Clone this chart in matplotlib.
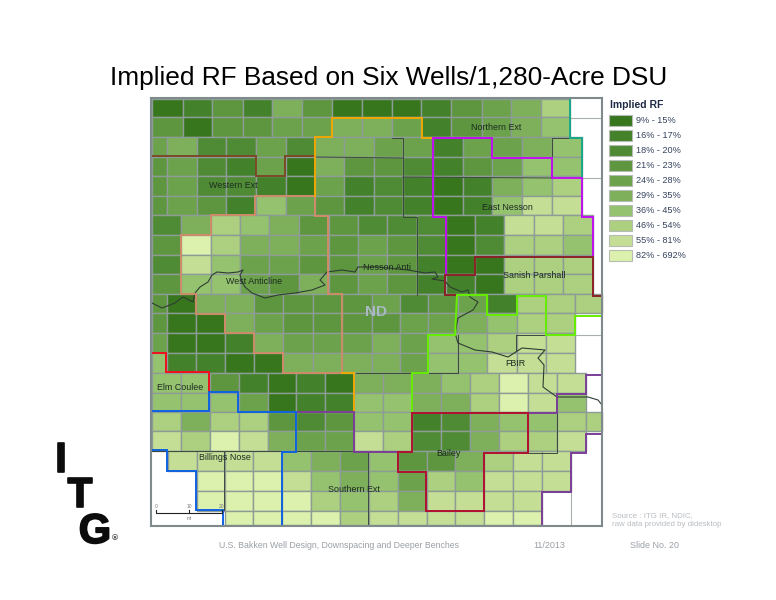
import matplotlib
matplotlib.use('Agg')
import matplotlib.pyplot as plt
import matplotlib.patheffects as pe
from matplotlib.patches import Rectangle

plt.rcParams['font.family'] = ['Liberation Sans', 'DejaVu Sans']

# legend classes
class_labels = ['9% - 15%', '16% - 17%', '18% - 20%', '21% - 23%', '24% - 28%',
                '29% - 35%', '36% - 45%', '46% - 54%', '55% - 81%', '82% - 692%']

# class of every township, -1 = no data
rf_rows_a = [
    [0, 1, 3, 1, 5, 3, 0, 0, 0, 1, 3, 4, 5, 7],
    [3, 0, 3, 3, 4, 4, 5, 5, 4, 1, 3, 4, 5, 6],
]
rf_rows_b = [
    [4, 5, 2, 2, 4, 2, 5, 5, 4, 4, 1, 4, 4, 5, 6],
    [3, 4, 2, 1, 4, 0, 5, 3, 3, 2, 1, 3, 4, 6, 6],
    [3, 4, 2, 2, 1, 0, 4, 1, 2, 1, 0, 1, 5, 6, 7],
    [3, 4, 3, 1, 6, 4, 3, 1, 2, 1, 0, 1, 6, 8, 8],
]
rf_rows_c = [
    [2, 5, 7, 6, 5, 3, 3, 2, 2, 2, 0, 1, 8, 8, 7],
    [3, 9, 7, 5, 5, 4, 3, 4, 3, 2, 0, 2, 7, 7, 6],
    [2, 8, 6, 4, 4, 3, 3, 4, 3, 1, 0, 0, 7, 7, 7],
    [3, 6, 6, 4, 3, 5, 3, 4, 3, 1, 1, 0, 7, 7, 7],
]
rf_rows_d = [
    [3, 0, 5, 5, 3, 3, 3, 3, 4, 2, 3, 4, 1, 7, 7, 7],
    [3, 0, 0, 5, 4, 3, 3, 3, 3, 4, 4, 5, 6, 7, 7, -1],
    [4, 0, 0, 1, 5, 4, 4, 4, 5, 4, 6, 6, 7, 8, 8, -1],
    [6, 1, 1, 0, 0, 5, 5, 5, 5, 4, 6, 6, 8, 8, 8, -1],
]
rf_rows_e = [
    [6, 6, 3, 1, 0, 1, 0, 5, 5, 5, 6, 7, 9, 8, 8, -1],
    [6, 6, 6, 4, 0, 1, 1, 6, 6, 5, 5, 7, 9, 8, 6, -1],
    [7, 5, 7, 7, 3, 2, 3, 6, 6, 1, 2, 5, 6, 6, 7, 7],
    [8, 7, 9, 8, 5, 4, 4, 8, 7, 2, 2, 5, 7, 7, 8, -1],
]
rf_rows_f = [
    [-1, 8, 8, 8, 8, 6, 5, 4, 6, 3, 3, 5, 7, 8, 8],
    [-1, -1, 9, 9, 9, 8, 6, 5, 6, 4, 7, 6, 8, 8, 8],
    [-1, -1, 9, 9, 9, 9, 7, 6, 7, 5, 8, 8, 8, 8, -1],
    [-1, -1, -1, 9, 9, 9, 9, 7, 8, 8, 8, 8, 9, 9, -1],
]

# map geometry, the figure is laid out in pixels
row_tops = [99, 117, 137, 157, 176, 196, 215, 235, 255, 274, 294, 313, 333,
            353, 373, 393, 412, 431, 451, 471, 491, 511, 525]
edges_a = [152, 183, 212, 243, 272, 302, 332, 362, 392, 421, 451, 482, 511, 541, 570]
edges_b = [152, 167, 197, 226, 256, 286, 315, 344, 374, 403, 433, 463, 492, 522, 552, 582]
edges_c = [152, 181, 211, 240, 269, 299, 329, 358, 387, 417, 446, 475, 504, 534, 563, 593]
edges_d = [152, 167, 196, 225, 254, 283, 313, 342, 372, 400, 428, 458, 487, 517, 546, 575, 602]
edges_e = [152, 181, 210, 239, 268, 296, 325, 354, 383, 412, 441, 470, 499, 528, 557, 586, 602]
edges_f = [152, 168, 197, 225, 253, 282, 311, 340, 369, 398, 427, 455, 484, 513, 542, 571]

colors = ['#38761d', '#43812a', '#4f8b34', '#5d963e', '#6ba24b',
          '#7eaf5a', '#95c26f', '#accf80', '#c4df95', '#dcf1ad']
cell_edge = '#8d9c94'

fig = plt.figure(figsize=(7.76, 6), dpi=100)
ax = fig.add_axes([0, 0, 1, 1])
ax.set_xlim(0, 776)
ax.set_ylim(600, 0)
ax.axis('off')

row_idx = 0
for rows, edges in [(rf_rows_a, edges_a), (rf_rows_b, edges_b), (rf_rows_c, edges_c),
                    (rf_rows_d, edges_d), (rf_rows_e, edges_e), (rf_rows_f, edges_f)]:
    for row in rows:
        top, bottom = row_tops[row_idx], row_tops[row_idx + 1]
        for i, cls in enumerate(row):
            if cls < 0:
                continue
            ax.add_patch(Rectangle((edges[i], top), edges[i + 1] - edges[i], bottom - top,
                                   facecolor=colors[cls], edgecolor=cell_edge, linewidth=1.0, zorder=1))
        row_idx += 1

# thin county lines
county_lines = [
    [(315, 157), (403, 158)], [(392, 138), (403, 138), (403, 217), (417, 217), (417, 295)],
    [(403, 177), (552, 178)], [(552, 178), (552, 138), (582, 138)],
    [(356, 373), (458, 373), (458, 335)], [(516, 335), (545, 335)], [(516, 335), (516, 350)],
    [(557, 413), (557, 453), (528, 453)], [(152, 451), (398, 451)],
    [(224, 452), (224, 510)], [(368, 452), (368, 525)], [(483, 525), (571, 525)],
]
for line in county_lines:
    ax.plot(*zip(*line), color='#3c4a3c', lw=0.7, zorder=2)

# white corner cells
for line in [[(570, 118), (601, 118)], [(582, 178), (601, 178)], [(575, 335), (601, 335)],
             [(542, 492), (571, 492)], [(571, 525), (571, 492)]]:
    ax.plot(*zip(*line), color='#a8b0ac', lw=0.8, zorder=2)

river = [(152, 303), (162, 308), (175, 303), (183, 297), (193, 302), (195, 293), (200, 287),
         (208, 282), (212, 275), (217, 272), (228, 273), (238, 272), (243, 270), (240, 275),
         (242, 282), (245, 287), (252, 293), (265, 298), (278, 295), (295, 293), (312, 290),
         (325, 285), (320, 280), (327, 272), (342, 270), (355, 272), (358, 267), (378, 267),
         (408, 270), (425, 273), (435, 272), (438, 277), (432, 279), (445, 281), (450, 287),
         (462, 292), (468, 290), (470, 297), (478, 302), (473, 310), (458, 318), (455, 333),
         (458, 343), (475, 350), (492, 352), (508, 357), (522, 348), (545, 350), (538, 358),
         (544, 365), (543, 387), (557, 397), (588, 397), (598, 400), (602, 405)]
ax.plot(*zip(*river), color='#2f3d33', lw=0.8, zorder=3)

# play outlines
outlines = [
    ('#7b4a28', [(152, 156), (256, 156), (256, 176), (285, 176), (285, 156), (315, 156)]),
    ('#cf8c68', [(315, 196), (255, 196), (255, 215), (211, 215), (211, 235), (181, 235), (181, 294),
                 (196, 294), (196, 314), (225, 314), (225, 333), (254, 333), (254, 353), (283, 353),
                 (283, 373), (342, 373), (342, 294), (328, 294), (328, 216), (315, 216), (315, 196)]),
    ('#f0a800', [(315, 196), (315, 137), (332, 137), (332, 118), (422, 118), (422, 138), (433, 138)]),
    ('#f0a800', [(342, 373), (354, 373), (354, 412)]),
    ('#1aa88a', [(570, 99), (570, 138), (582, 138), (582, 177)]),
    ('#c010f0', [(446, 275), (446, 217), (433, 217), (433, 138), (492, 138), (492, 158), (552, 158),
                 (552, 178), (582, 178), (582, 217), (593, 217), (593, 257)]),
    ('#8b2228', [(457, 295), (445, 295), (445, 275), (475, 275), (475, 257), (593, 257), (593, 296), (602, 296)]),
    ('#66ee00', [(412, 413), (412, 373), (428, 373), (428, 335), (455, 335), (457, 295), (487, 295),
                 (487, 315), (517, 315), (517, 296), (546, 296), (546, 335), (575, 335), (575, 316), (602, 316)]),
    ('#7b3f98', [(296, 412), (354, 412), (354, 452), (398, 452)]),
    ('#7b3f98', [(528, 413), (557, 413), (557, 394), (586, 394), (586, 375), (602, 375)]),
    ('#7b3f98', [(602, 434), (586, 434), (586, 453), (571, 453), (571, 492), (542, 492), (542, 525)]),
    ('#b01030', [(412, 413), (528, 413), (528, 453), (484, 453), (484, 511), (426, 511), (426, 472),
                 (398, 472), (398, 452), (412, 452), (412, 413)]),
    ('#f01020', [(152, 353), (166, 353), (166, 372), (209, 372), (209, 392)]),
    ('#0f62e0', [(152, 411), (209, 411), (209, 392), (238, 392), (238, 412), (296, 412), (296, 452),
                 (282, 452), (282, 525)]),
    ('#0f62e0', [(152, 450), (167, 450), (167, 471), (196, 471), (196, 510), (223, 510), (223, 525)]),
]
for col, pts in outlines:
    ax.plot(*zip(*pts), color=col, lw=1.4, zorder=4, solid_joinstyle='miter')

# map frame
ax.add_patch(Rectangle((151, 98), 451, 428, fill=False, edgecolor='#7f8a8a', linewidth=1.5, zorder=5))

# play names
play_names = [('Northern Ext', 496, 127), ('Western Ext', 233, 186), ('East Nesson', 507, 207),
              ('Nesson Anti', 387, 267), ('Sanish Parshall', 534, 276), ('West Anticline', 254, 282),
              ('FBIR', 515, 364), ('Elm Coulee', 180, 388), ('Bailey', 448, 454),
              ('Billings Nose', 225, 457), ('Southern Ext', 354, 489)]
for name, x, y in play_names:
    ax.text(x, y, name, fontsize=6.4, color='#1c2a20', ha='center', va='center', zorder=6)
ax.text(376, 312, 'ND', fontsize=11, fontweight='bold', color='#a9bac4', ha='center', va='center', zorder=6)

# scale bar
ax.plot([156, 156, 222, 222], [510, 513, 513, 510], color='#222222', lw=0.8, zorder=6)
ax.plot([189, 189], [510, 513], color='#222222', lw=0.8, zorder=6)
for tick_text, x in [('0', 156), ('10', 189), ('20', 222)]:
    ax.text(x, 506, tick_text, fontsize=3.5, color='#777777', ha='center', va='center', zorder=6)
ax.text(189, 518, 'mi', fontsize=3.5, color='#777777', ha='center', va='center', zorder=6)

# legend
ax.text(610, 105, 'Implied RF', fontsize=7.5, fontweight='bold', color='#1f2a44', va='center')
for i, label in enumerate(class_labels):
    y = 115 + 15 * i
    ax.add_patch(Rectangle((609, y), 23, 11, facecolor=colors[i], edgecolor='#b4bcb4', linewidth=0.8))
    ax.text(636, y + 5.5, label, fontsize=6.6, color='#35435f', va='center')

ax.text(388.5, 85, 'Implied RF Based on Six Wells/1,280-Acre DSU', fontsize=18.95,
        color='black', ha='center', va='baseline')

# logo
for letter, x, y, size in [('I', 61, 472, 30), ('T', 80, 507, 30), ('G', 95, 543, 30)]:
    ax.text(x, y, letter, fontsize=size, fontweight='bold', family='Liberation Sans',
            color='#0c0c0c', ha='center', va='baseline',
            path_effects=[pe.withStroke(linewidth=1.2, foreground='#0c0c0c')])
ax.text(115, 539, '®', fontsize=6, fontweight='bold', color='#444444', ha='center', va='center')

# footer
ax.text(612, 516, 'Source : ITG IR, NDIC,', fontsize=5.7, color='#b9bdc1', va='center')
ax.text(612, 525, 'raw data provided by didesktop', fontsize=5.7, color='#b9bdc1', va='center')
ax.text(219, 545, 'U.S. Bakken Well Design, Downspacing and Deeper Benches', fontsize=6.35, color='#9a9fa5', va='center')
ax.text(533, 545, '11/2013', fontsize=6.5, color='#9a9fa5', va='center')
ax.text(630, 545, 'Slide No. 20', fontsize=6.4, color='#9a9fa5', va='center')

fig.savefig('out.png', dpi=100)
